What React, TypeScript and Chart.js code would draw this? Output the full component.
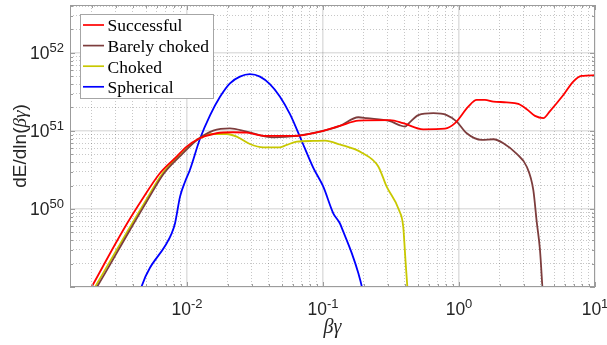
import React, { useEffect, useRef } from 'react';
import { Chart, registerables } from 'chart.js';

Chart.register(...registerables);

const seriesLabels = ['Successful', 'Barely choked', 'Choked', 'Spherical'];
const seriesColors = ['#ff0000', '#7d3d3d', '#c8c800', '#0000ff'];

const successfulX = [1.8e-3, 1.99e-3, 3.4e-3, 4.65e-3, 6.32e-3, 8.39e-3, 9.95e-3, 1.21e-2, 1.65e-2, 2.18e-2, 2.75e-2, 3.85e-2, 6.05e-2, 9.51e-2, 0.133, 0.182, 0.311, 0.389, 0.546, 0.789, 0.935, 1.17, 1.35, 1.55, 1.79, 2.24, 2.73, 3.15, 3.62, 4.17, 4.67, 5.85, 6.92, 7.98, 10];
const successfulY = [7.3e48, 1.0e49, 5.38e49, 1.3e50, 2.87e50, 4.69e50, 6.3e50, 7.89e50, 9.35e50, 9.63e50, 9.51e50, 8.63e50, 8.63e50, 9.8e50, 1.16e51, 1.36e51, 1.38e51, 1.26e51, 1.05e51, 1.07e51, 1.26e51, 2.05e51, 2.5e51, 2.5e51, 2.38e51, 2.33e51, 2.22e51, 1.9e51, 1.56e51, 1.46e51, 1.8e51, 2.89e51, 4.29e51, 5.07e51, 5.18e51];

const barelyX = [1.95e-3, 2.18e-3, 3.81e-3, 5.13e-3, 6.78e-3, 8.81e-3, 1.21e-2, 1.56e-2, 2.07e-2, 2.75e-2, 4.31e-2, 6.41e-2, 9.51e-2, 0.133, 0.182, 0.2096, 0.311, 0.368, 0.401, 0.436, 0.503, 0.648, 0.812, 0.962, 1.14, 1.47, 1.79, 2.12, 2.66, 3.15, 3.52, 3.73, 3.94, 4.1, 4.2];
const barelyY = [7.3e48, 1.0e49, 5.38e49, 1.3e50, 2.87e50, 4.69e50, 7.89e50, 1.01e51, 1.08e51, 9.8e50, 8.3e50, 8.63e50, 9.8e50, 1.16e51, 1.5e51, 1.46e51, 1.34e51, 1.18e51, 1.14e51, 1.3e51, 1.6e51, 1.69e51, 1.6e51, 1.32e51, 9.35e50, 7.67e50, 7.83e50, 6.96e50, 5.07e50, 3.48e50, 1.75e50, 6.81e49, 2.98e49, 1.01e49, 5e48];

const chokedX = [1.9e-3, 2.11e-3, 3.7e-3, 5.0e-3, 6.62e-3, 8.63e-3, 1.21e-2, 1.56e-2, 1.96e-2, 2.32e-2, 2.9e-2, 3.64e-2, 4.83e-2, 5.41e-2, 6.41e-2, 8.49e-2, 0.1035, 0.133, 0.193, 0.255, 0.294, 0.362, 0.389, 0.404, 0.417, 0.425];
const chokedY = [7.3e48, 1.0e49, 5.38e49, 1.3e50, 2.87e50, 4.69e50, 7.89e50, 9.15e50, 9.15e50, 8.45e50, 6.81e50, 6.18e50, 6.18e50, 6.62e50, 7.3e50, 7.45e50, 7.51e50, 6.71e50, 5.27e50, 3.51e50, 1.93e50, 9.7e49, 5.93e49, 2.22e49, 1.01e49, 7e48];

const sphericalX = [4.4e-3, 4.65e-3, 7.72e-3, 8.17e-3, 8.89e-3, 9.66e-3, 1.05e-2, 1.25e-2, 1.48e-2, 1.75e-2, 2.07e-2, 2.45e-2, 2.9e-2, 3.44e-2, 4.07e-2, 4.83e-2, 5.72e-2, 6.78e-2, 8.49e-2, 0.1005, 0.119, 0.133, 0.141, 0.163, 0.182, 0.193, 0.2];
const sphericalY = [7e48, 1.03e49, 4.88e49, 6.56e49, 1.44e50, 2.22e50, 3.16e50, 8.06e50, 1.6e51, 2.75e51, 4.09e51, 4.98e51, 5.35e51, 4.98e51, 3.98e51, 2.75e51, 1.64e51, 8.37e50, 3.36e50, 1.93e50, 8.81e49, 6.56e49, 5.12e49, 2.7e49, 1.5e49, 1.01e49, 7e48];

const xTickExponents = [-2, -1, 0, 1];
const yTickExponents = [50, 51, 52];
const X_MIN = 1.38e-3;
const X_MAX = 10;
const Y_MIN = 1.0e49;
const Y_MAX = 4.12e52;

const xSeries = [successfulX, barelyX, chokedX, sphericalX];
const ySeries = [successfulY, barelyY, chokedY, sphericalY];

function logTicks(min: number, max: number) {
  const out: number[] = [];
  const lo = Math.floor(Math.log10(min));
  const hi = Math.ceil(Math.log10(max));
  for (let e = lo; e <= hi; e++) {
    for (let k = 1; k <= 9; k++) {
      const v = k * Math.pow(10, e);
      if (v >= min * 0.999 && v <= max * 1.001) out.push(v);
    }
  }
  return out;
}

function isDecade(v: number | undefined) {
  if (v === undefined || v === null) return false;
  const l = Math.log10(v);
  return Math.abs(l - Math.round(l)) < 1e-6;
}

const AXIS_GRAY = '#9c9c9c';
const TICK_FONT = '"Liberation Sans", Arial, sans-serif';

function drawPow(ctx: CanvasRenderingContext2D, exp: number, x: number, y: number, mode: 'center' | 'right') {
  const base = '10';
  const sup = String(exp);
  ctx.font = `17.5px ${TICK_FONT}`;
  const w1 = ctx.measureText(base).width;
  ctx.font = `13px ${TICK_FONT}`;
  const w2 = ctx.measureText(sup).width;
  const total = w1 + w2;
  const start = mode === 'center' ? x - total / 2 : x - total;
  ctx.textAlign = 'left';
  ctx.textBaseline = 'alphabetic';
  ctx.fillStyle = '#262626';
  ctx.font = `17.5px ${TICK_FONT}`;
  ctx.fillText(base, start, y);
  ctx.font = `13px ${TICK_FONT}`;
  ctx.fillText(sup, start + w1, y - 7.5);
}

const decorPlugin = {
  id: 'matlabDecor',
  afterDraw(chart: any) {
    const { ctx, chartArea: a, scales } = chart;
    const xs = scales.x;
    const ys = scales.y;
    ctx.save();

    // inner tick marks
    ctx.strokeStyle = AXIS_GRAY;
    ctx.lineWidth = 1;
    ctx.beginPath();
    xs.ticks.forEach((t: any) => {
      const px = Math.round(xs.getPixelForValue(t.value)) + 0.5;
      const len = isDecade(t.value) ? 5 : 3;
      ctx.moveTo(px, a.bottom);
      ctx.lineTo(px, a.bottom - len);
      ctx.moveTo(px, a.top);
      ctx.lineTo(px, a.top + len);
    });
    ys.ticks.forEach((t: any) => {
      const py = Math.round(ys.getPixelForValue(t.value)) + 0.5;
      const len = isDecade(t.value) ? 5 : 3;
      ctx.moveTo(a.left, py);
      ctx.lineTo(a.left + len, py);
      ctx.moveTo(a.right, py);
      ctx.lineTo(a.right - len, py);
    });
    ctx.stroke();

    // box
    ctx.strokeRect(a.left + 0.5, a.top + 0.5, a.right - a.left - 1, a.bottom - a.top - 1);

    // tick labels
    xTickExponents.forEach((e) => {
      drawPow(ctx, e, xs.getPixelForValue(Math.pow(10, e)), 315, 'center');
    });
    yTickExponents.forEach((e) => {
      const py = ys.getPixelForValue(Math.pow(10, e));
      drawPow(ctx, e, 64, py + 6.5, 'right');
    });

    // x title
    ctx.fillStyle = '#262626';
    ctx.font = 'italic 20px "Liberation Serif", serif';
    ctx.textAlign = 'center';
    ctx.textBaseline = 'alphabetic';
    ctx.fillText('βγ', (a.left + a.right) / 2, 333);

    // y title
    const parts: [string, string][] = [
      ['dE/dln(', `19px ${TICK_FONT}`],
      ['βγ', 'italic 19px "Liberation Serif", serif'],
      [')', `19px ${TICK_FONT}`],
    ];
    let total = 0;
    const widths = parts.map(([t, f]) => {
      ctx.font = f;
      const w = ctx.measureText(t).width;
      total += w;
      return w;
    });
    ctx.save();
    ctx.translate(26, (a.top + a.bottom) / 2);
    ctx.rotate(-Math.PI / 2);
    ctx.textAlign = 'left';
    let cx = -total / 2;
    parts.forEach(([t, f], i) => {
      ctx.font = f;
      ctx.fillText(t, cx, 0);
      cx += widths[i];
    });
    ctx.restore();

    // legend
    const lx = 80, ly = 14, lw = 134, lh = 85;
    ctx.fillStyle = '#ffffff';
    ctx.fillRect(lx, ly, lw, lh);
    ctx.strokeStyle = '#a6a6a6';
    ctx.lineWidth = 1;
    ctx.strokeRect(lx + 0.5, ly + 0.5, lw - 1, lh - 1);
    chart.data.datasets.forEach((ds: any, i: number) => {
      const yy = 25 + i * 20.6;
      ctx.strokeStyle = ds.borderColor;
      ctx.lineWidth = 1.7;
      ctx.beginPath();
      ctx.moveTo(83, yy);
      ctx.lineTo(104, yy);
      ctx.stroke();
      ctx.fillStyle = '#000';
      ctx.font = '17.5px "Liberation Serif", "Times New Roman", serif';
      ctx.textAlign = 'left';
      ctx.textBaseline = 'alphabetic';
      ctx.fillText(ds.label, 107.5, yy + 6.3);
    });

    ctx.restore();
  },
};

export default function App() {
  const ref = useRef<HTMLCanvasElement>(null);
  useEffect(() => {
    if (!ref.current) return;
    const datasets = seriesLabels.map((label, i) => ({
      label,
      data: xSeries[i].map((x, j) => ({ x, y: ySeries[i][j] })),
      borderColor: seriesColors[i],
      backgroundColor: seriesColors[i],
      borderWidth: 1.8,
      pointRadius: 0,
      fill: false,
      cubicInterpolationMode: 'monotone' as const,
    }));
    const gridColor = (c: any) => (isDecade(c.tick?.value) ? 'rgba(0,0,0,0.12)' : 'rgba(0,0,0,0.22)');
    const gridWidth = (c: any) => (isDecade(c.tick?.value) ? 1.6 : 1);
    const gridDash = (c: any) => (isDecade(c.tick?.value) ? [] : [1, 2]);
    const chart = new Chart(ref.current, {
      type: 'line',
      data: { datasets },
      plugins: [decorPlugin],
      options: {
        animation: false,
        responsive: false,
        devicePixelRatio: 1,
        layout: { padding: { left: 0, top: 5, right: 12, bottom: 0 } },
        plugins: { legend: { display: false }, tooltip: { enabled: false }, title: { display: false } },
        scales: {
          x: {
            type: 'logarithmic',
            min: X_MIN,
            max: X_MAX,
            afterBuildTicks: (s: any) => {
              s.ticks = logTicks(X_MIN, X_MAX).map((v) => ({ value: v }));
            },
            afterFit: (s: any) => {
              s.height = 58;
            },
            ticks: { display: false },
            grid: { color: gridColor, lineWidth: gridWidth, drawTicks: false },
            border: { display: false, dash: gridDash },
          },
          y: {
            type: 'logarithmic',
            min: Y_MIN,
            max: Y_MAX,
            afterBuildTicks: (s: any) => {
              s.ticks = logTicks(Y_MIN, Y_MAX).map((v) => ({ value: v }));
            },
            afterFit: (s: any) => {
              s.width = 70;
            },
            ticks: { display: false },
            grid: { color: gridColor, lineWidth: gridWidth, drawTicks: false },
            border: { display: false, dash: gridDash },
          },
        },
      } as any,
    });
    return () => chart.destroy();
  }, []);
  return (
    <div style={{ position: 'absolute', left: 0, top: 0, width: 607, height: 345, background: '#fff' }}>
      <canvas ref={ref} width={607} height={345} style={{ display: 'block', width: 607, height: 345 }} />
    </div>
  );
}
